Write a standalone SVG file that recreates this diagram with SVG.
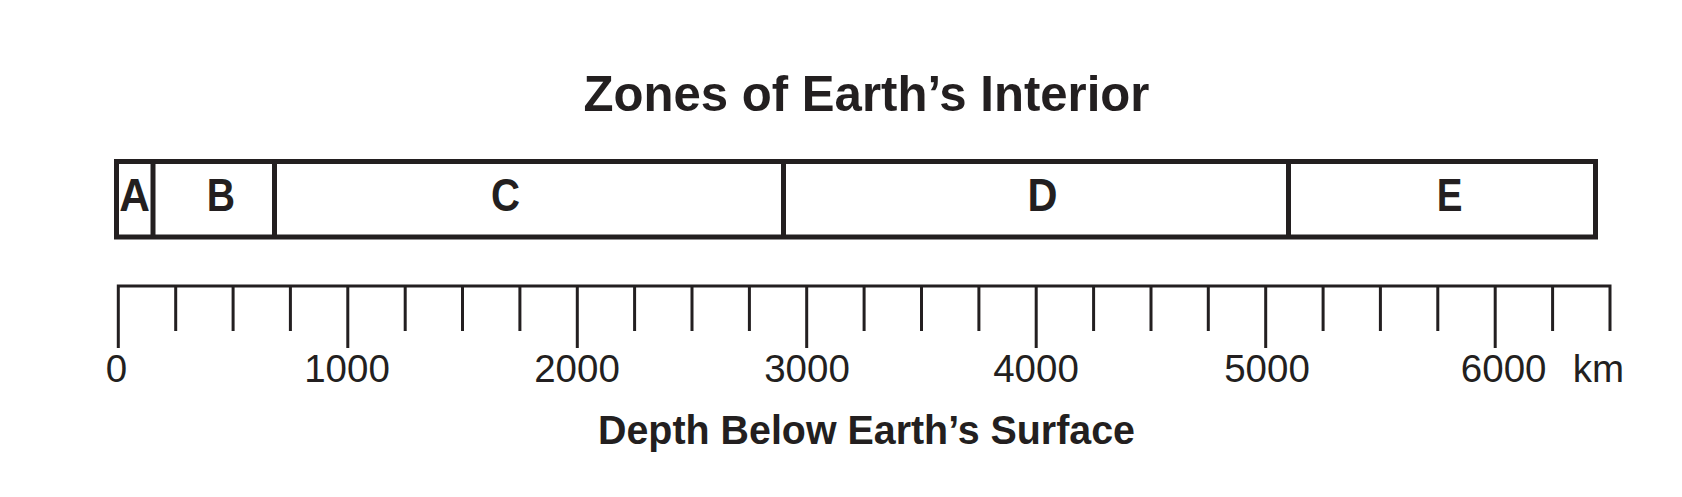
<svg xmlns="http://www.w3.org/2000/svg" width="1682" height="497" viewBox="0 0 1682 497">
<style>
.t{font-family:"Liberation Sans",Arial,sans-serif;fill:#231f20}
.b{font-weight:bold}
.zl{font-size:46px;font-weight:bold;text-anchor:middle}
.num{font-size:38.5px;text-anchor:middle}
.ln{stroke:#231f20;fill:none}
</style>
<rect width="1682" height="497" fill="#ffffff"/>
<text class="t b" x="866.5" y="110.7" font-size="50" text-anchor="middle" textLength="566" lengthAdjust="spacingAndGlyphs">Zones of Earth’s Interior</text>
<g id="zones">
<rect class="ln" x="116.5" y="161.5" width="1479" height="75.5" stroke-width="5"/>
<g class="ln" stroke-width="5">
<line x1="153" y1="161.5" x2="153" y2="237"/>
<line x1="274.5" y1="161.5" x2="274.5" y2="237"/>
<line x1="783.5" y1="161.5" x2="783.5" y2="237"/>
<line x1="1288.5" y1="161.5" x2="1288.5" y2="237"/>
</g>
<g id="zone-A"><text class="t zl" x="134.7" y="211.3" textLength="30.7" lengthAdjust="spacingAndGlyphs">A</text></g>
<g id="zone-B"><text class="t zl" x="220.8" y="211.3" textLength="28.3" lengthAdjust="spacingAndGlyphs">B</text></g>
<g id="zone-C"><text class="t zl" x="505.5" y="211.3" textLength="29" lengthAdjust="spacingAndGlyphs">C</text></g>
<g id="zone-D"><text class="t zl" x="1042.5" y="211.3" textLength="30" lengthAdjust="spacingAndGlyphs">D</text></g>
<g id="zone-E"><text class="t zl" x="1449.5" y="211.3" textLength="25.7" lengthAdjust="spacingAndGlyphs">E</text></g>
</g>
<g id="scale" class="ln" stroke-width="3">
<path d="M118.3 348V286H1610V331"/>
<path d="M175.7 286V331M233.1 286V331M290.4 286V331M347.8 286V348M405.2 286V331M462.5 286V331M519.9 286V331M577.3 286V348M634.6 286V331M692 286V331M749.4 286V331M806.7 286V348M864.1 286V331M921.5 286V331M978.9 286V331M1036.2 286V348M1093.6 286V331M1151 286V331M1208.3 286V331M1265.7 286V348M1323.1 286V331M1380.4 286V331M1437.8 286V331M1495.2 286V348M1552.6 286V331"/>
</g>
<g id="scale-labels">
<text class="t num" x="116.5" y="382">0</text>
<text class="t num" x="347" y="382">1000</text>
<text class="t num" x="577" y="382">2000</text>
<text class="t num" x="807" y="382">3000</text>
<text class="t num" x="1036" y="382">4000</text>
<text class="t num" x="1267" y="382">5000</text>
<text class="t num" x="1503.7" y="382">6000</text>
<text class="t" x="1572.7" y="382" font-size="38.5">km</text>
</g>
<text class="t b" x="866.5" y="444.3" font-size="40" text-anchor="middle" textLength="537" lengthAdjust="spacingAndGlyphs">Depth Below Earth’s Surface</text>
</svg>
